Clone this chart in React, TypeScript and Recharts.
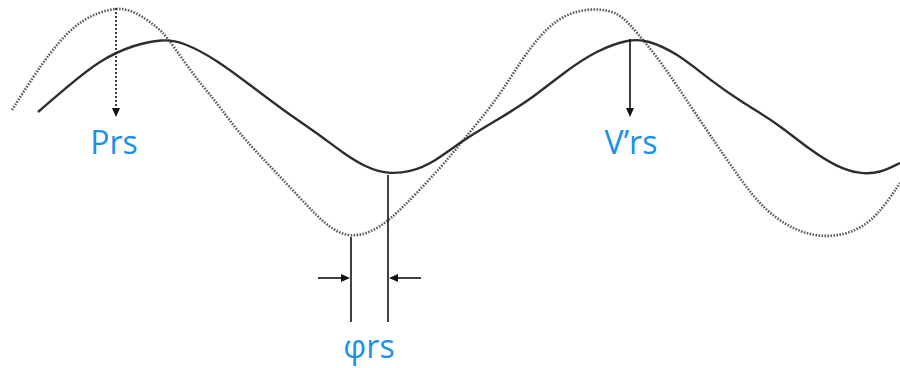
import { Line, LineChart, ReferenceDot, ReferenceLine, XAxis, YAxis } from "recharts";

// pixel-like coordinates: x across, y measured down from the top
const PRS_X = [12, 33, 50, 67, 83, 100, 117, 130, 143, 157, 167, 183, 200, 217, 233, 250, 267, 283, 300, 317, 333, 350, 370, 390, 417, 450, 463, 497, 523, 547, 570, 597, 620, 637, 660, 693, 727, 760, 793, 823, 853, 877, 900];
const PRS_Y = [110, 77, 53, 33, 20, 12, 8, 10, 17, 27, 37, 60, 83, 103, 125, 145, 163, 180, 198, 216, 230, 237, 233, 220, 193, 157, 140, 100, 57, 27, 12, 8, 13, 33, 60, 110, 160, 207, 230, 238, 233, 217, 183];

const VRS_X = [38, 67, 100, 133, 163, 183, 217, 250, 283, 317, 343, 367, 388, 410, 433, 463, 497, 530, 563, 597, 630, 647, 677, 710, 743, 777, 810, 837, 860, 880, 900];
const VRS_Y = [112, 87, 60, 45, 39, 42, 60, 85, 110, 133, 153, 168, 174, 172, 163, 140, 120, 100, 73, 50, 39, 40, 53, 80, 103, 123, 150, 167, 174, 173, 163];

// annotation arrows: [x1, y1, x2, y2, dotted, head]
const ARROWS: [number, number, number, number, boolean, boolean][] = [
  [116, 8, 116, 117, true, true],
  [630, 39, 630, 117, false, true],
  [351, 237, 351, 322, false, false],
  [388, 175, 388, 322, false, false],
  [318, 278, 350, 278, false, true],
  [421, 278, 389, 278, false, true],
];

const LABELS: { x: number; y: number; text: string }[] = [
  { x: 114, y: 154, text: "Prs" },
  { x: 631, y: 154, text: "V\u2019rs" },
  { x: 369, y: 358, text: "\u03c6rs" },
];

const prs = PRS_X.map((x, i) => ({ x, y: PRS_Y[i] }));
const vrs = VRS_X.map((x, i) => ({ x, y: VRS_Y[i] }));

const BLUE = "#1E8FE6";

function Arrow(props: any, dotted: boolean, head: boolean) {
  const { x1, y1, x2, y2 } = props;
  const dx = x2 - x1;
  const dy = y2 - y1;
  const len = Math.hypot(dx, dy) || 1;
  const ux = dx / len;
  const uy = dy / len;
  const hl = 9;
  const hw = 4;
  const bx = x2 - ux * hl;
  const by = y2 - uy * hl;
  const pts = `${x2},${y2} ${bx - uy * hw},${by + ux * hw} ${bx + uy * hw},${by - ux * hw}`;
  return (
    <g>
      <line
        x1={x1}
        y1={y1}
        x2={head ? bx : x2}
        y2={head ? by : y2}
        stroke="#111"
        strokeWidth={1.6}
        strokeDasharray={dotted ? "2 2" : undefined}
      />
      {head && <polygon points={pts} fill="#111" />}
    </g>
  );
}

export default function App() {
  return (
    <div style={{ position: "absolute", left: 0, top: 0, width: 900, height: 368, background: "#fff" }}>
      <LineChart width={900} height={368} margin={{ top: 0, right: 0, bottom: 0, left: 0 }}>
        <XAxis type="number" dataKey="x" domain={[0, 900]} hide allowDataOverflow />
        <YAxis type="number" dataKey="y" domain={[0, 368]} reversed hide allowDataOverflow />
        <Line
          data={prs}
          dataKey="y"
          type="basis"
          stroke="#5e5e5e"
          strokeWidth={2.6}
          strokeDasharray="1.6 1.4"
          dot={false}
          activeDot={false}
          isAnimationActive={false}
        />
        <Line
          data={vrs}
          dataKey="y"
          type="basis"
          stroke="#2e2e2e"
          strokeWidth={2.4}
          dot={false}
          activeDot={false}
          isAnimationActive={false}
        />
        {ARROWS.map(([x1, y1, x2, y2, dotted, head], i) => (
          <ReferenceLine
            key={i}
            segment={[
              { x: x1, y: y1 },
              { x: x2, y: y2 },
            ]}
            ifOverflow="visible"
            shape={(p: any) => Arrow(p, dotted, head)}
          />
        ))}
        {LABELS.map((l, i) => (
          <ReferenceDot
            key={i}
            x={l.x}
            y={l.y}
            r={0}
            ifOverflow="visible"
            shape={(p: any) => (
              <text
                x={p.cx}
                y={p.cy}
                textAnchor="middle"
                fill={BLUE}
                fontSize={32}
                fontFamily="'Open Sans', 'Noto Sans', sans-serif"
              >
                {l.text}
              </text>
            )}
          />
        ))}
      </LineChart>
    </div>
  );
}
